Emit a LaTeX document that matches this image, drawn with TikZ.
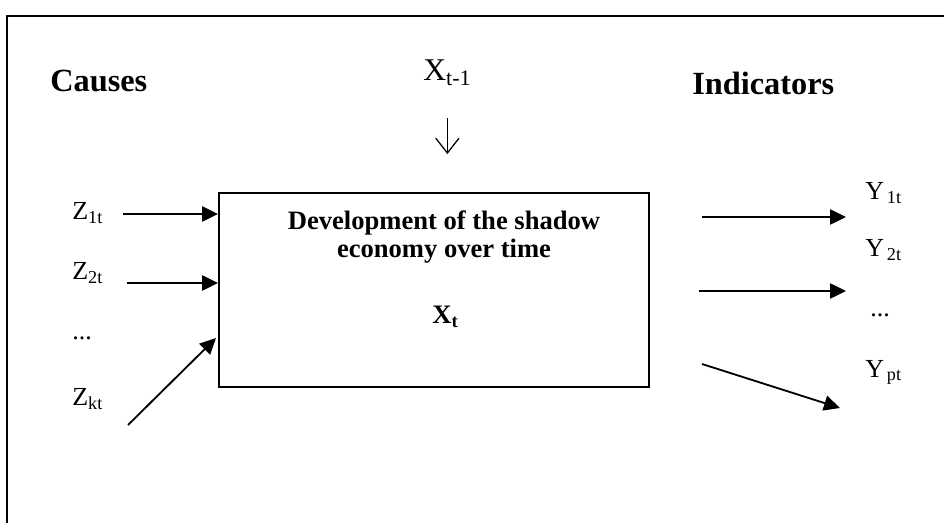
\documentclass[tikz,border=0pt]{standalone}
\usepackage{fontspec}
\setmainfont{Liberation Serif}
\usetikzlibrary{arrows.meta}

\tikzset{
  flow/.style={line width=1.3pt,-{Triangle[length=0.4cm,width=0.38cm]}},
  var/.style={inner sep=0pt,anchor=base west,font=\fontsize{18.5}{20}\selectfont},
  heading/.style={inner sep=0pt,anchor=base west,font=\fontsize{23}{26}\selectfont\bfseries},
}

\begin{document}
\begin{tikzpicture}[x=0.025cm,y=-0.025cm]
\useasboundingbox (0,0) rectangle (944,523);

% frame, cut off at the right and bottom
\draw[line width=1.7pt] (6.7,523) -- (6.7,16.3) -- (944,16.3);

\node[heading] (causes) at (50,92) {Causes};
\node[heading] (indic) at (692,95) {Indicators};

\node[var,font=\fontsize{22.5}{24}\selectfont] (xprev) at (423,81) {X\textsubscript{t-1}};

\node[draw,line width=1.3pt,minimum width=10.75cm,minimum height=4.85cm,inner sep=0pt] (box) at (434,290) {};
\node[align=center,inner sep=0pt,font=\fontsize{18.9}{20}\selectfont\bfseries] (boxtext) at (444,237)
  {Development of the shadow\\economy over time};
\node[var,font=\fontsize{19}{20}\selectfont\bfseries] (xt) at (432,324) {X\textsubscript{t}};

\draw[line width=0.9pt,-{Straight Barb[length=0.37cm,width=0.58cm]},shorten <=0.8cm,shorten >=0.95cm]
  (xprev.south) -- (xprev.south |- box.north);

% causes
\node[var] (z1) at (72,220) {Z\textsubscript{1t}};
\node[var] (z2) at (72,280) {Z\textsubscript{2t}};
\node[var] (zdots) at (72,340) {...};
\node[var] (zk) at (72,405) {Z\textsubscript{kt}};

\coordinate (zin1) at (123,214);
\coordinate (zin2) at (127,283);
\coordinate (zin3) at (128,425);
\coordinate (zend3) at (216,338);
\draw[flow] (zin1) -- (box.west |- zin1);
\draw[flow] (zin2) -- (box.west |- zin2);
\draw[flow] (zin3) -- (zend3);

% indicators
\node[var] (y1) at (865,200) {Y\kern2pt\textsubscript{1t}};
\node[var] (y2) at (865,257) {Y\kern2pt\textsubscript{2t}};
\node[var] (ydots) at (870,317) {...};
\node[var] (yp) at (865,377) {Y\kern2pt\textsubscript{pt}};

\coordinate (yout1) at (702,217);
\coordinate (yend1) at (846,217);
\coordinate (yout2) at (699,291);
\coordinate (yend2) at (846,291);
\coordinate (yout3) at (702,364);
\coordinate (yend3) at (840,408);
\draw[flow] (yout1) -- (yend1);
\draw[flow] (yout2) -- (yend2);
\draw[flow] (yout3) -- (yend3);

\end{tikzpicture}
\end{document}
